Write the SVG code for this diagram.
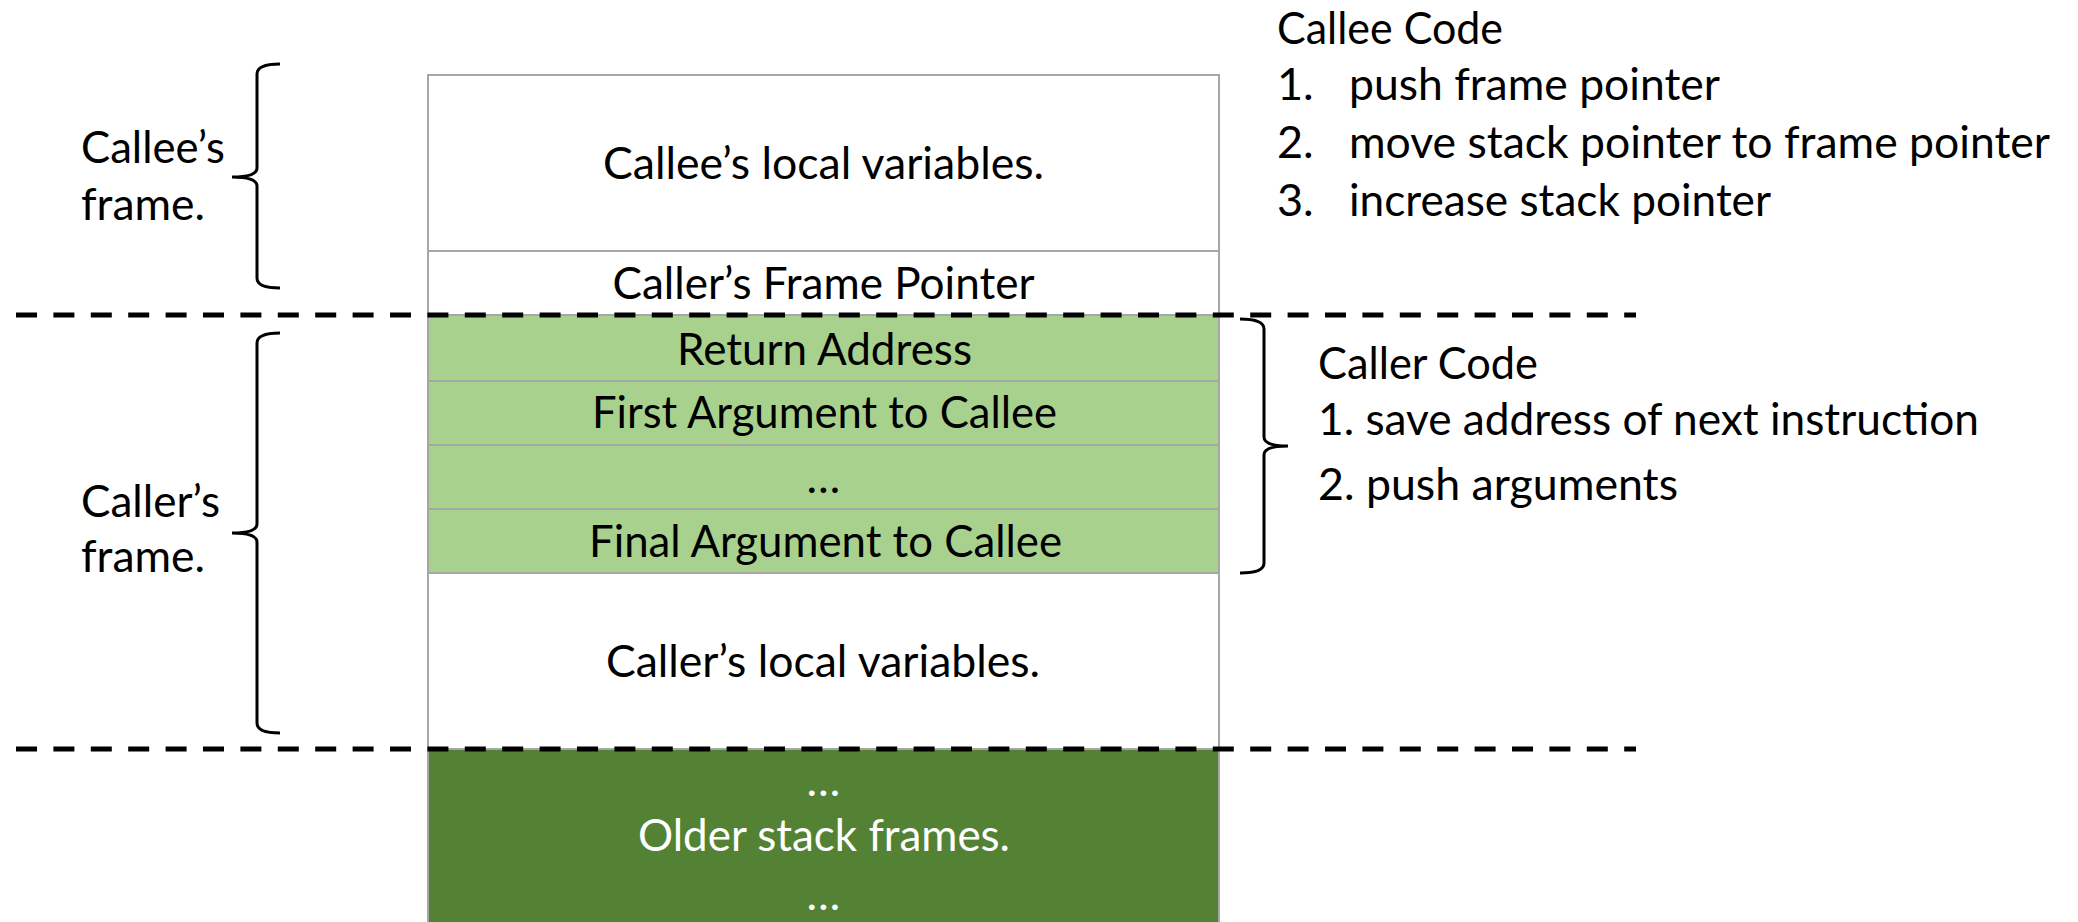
<svg xmlns="http://www.w3.org/2000/svg" width="2078" height="922" viewBox="0 0 2078 922">
<style>
text{font-family:Lato,"Open Sans","Liberation Sans",sans-serif;font-size:45px;fill:#000}
.c{text-anchor:middle}
.w{fill:#fff}
.cell{stroke:#A6A6A6;stroke-width:2}
.white{fill:#fff}
.lg{fill:#A9D18E}
.dg{fill:#548235}
.dash{stroke:#000;stroke-width:5;stroke-dasharray:21 16.4;fill:none}
.brace{stroke:#000;stroke-width:3;fill:none}
</style>
<rect width="2078" height="922" fill="#fff"/>
<g id="stack">
<g id="callee-locals"><rect class="cell white" x="428" y="75" width="791" height="176"/><text class="c" x="823.5" y="179" textLength="441" lengthAdjust="spacingAndGlyphs">Callee’s local variables.</text></g>
<g id="caller-fp"><rect class="cell white" x="428" y="251" width="791" height="64"/><text class="c" x="823.5" y="299" textLength="422" lengthAdjust="spacingAndGlyphs">Caller’s Frame Pointer</text></g>
<g id="return-address"><rect class="cell lg" x="428" y="315" width="791" height="66"/><text class="c" x="824.5" y="365" textLength="295" lengthAdjust="spacingAndGlyphs">Return Address</text></g>
<g id="first-arg"><rect class="cell lg" x="428" y="381" width="791" height="64"/><text class="c" x="824.5" y="428" textLength="465" lengthAdjust="spacingAndGlyphs">First Argument to Callee</text></g>
<g id="more-args"><rect class="cell lg" x="428" y="445" width="791" height="64"/><text class="c" x="823.5" y="493">…</text></g>
<g id="final-arg"><rect class="cell lg" x="428" y="509" width="791" height="64"/><text class="c" x="825.5" y="557" textLength="473" lengthAdjust="spacingAndGlyphs">Final Argument to Callee</text></g>
<g id="caller-locals"><rect class="cell white" x="428" y="573" width="791" height="176"/><text class="c" x="823" y="677" textLength="434" lengthAdjust="spacingAndGlyphs">Caller’s local variables.</text></g>
<g id="older-frames"><rect class="cell dg" x="428" y="749" width="791" height="190"/><text class="c w" x="823.5" y="796">…</text><text class="c w" x="824" y="851" textLength="372" lengthAdjust="spacingAndGlyphs">Older stack frames.</text><text class="c w" x="823.5" y="910">…</text></g>
</g>
<g id="connectors">
<line class="dash" x1="16" y1="315" x2="1636" y2="315"/>
<line class="dash" x1="16" y1="749" x2="1636" y2="749"/>
<path class="brace" d="M280,64 Q257,64 257,74 L257,168 Q257,177 232,177 Q257,177 257,186 L257,278 Q257,288 280,288"/>
<path class="brace" d="M280,333 Q257,333 257,343 L257,524 Q257,533 232,533 Q257,533 257,542 L257,723 Q257,733 280,733"/>
<path class="brace" d="M1240,319 Q1264,319 1264,329 L1264,437 Q1264,446 1288,446 Q1264,446 1264,455 L1264,563 Q1264,573 1240,573"/>
</g>
<g id="callee-frame-label"><text x="81" y="163" textLength="144" lengthAdjust="spacingAndGlyphs">Callee’s</text><text x="81" y="220" textLength="124" lengthAdjust="spacingAndGlyphs">frame.</text></g>
<g id="caller-frame-label"><text x="81" y="517" textLength="139" lengthAdjust="spacingAndGlyphs">Caller’s</text><text x="81" y="572" textLength="124" lengthAdjust="spacingAndGlyphs">frame.</text></g>
<g id="callee-code">
<text x="1277" y="44" textLength="226" lengthAdjust="spacingAndGlyphs">Callee Code</text>
<text x="1277" y="100">1.</text><text x="1349" y="100" textLength="371" lengthAdjust="spacingAndGlyphs">push frame pointer</text>
<text x="1277" y="158">2.</text><text x="1349" y="158" textLength="701" lengthAdjust="spacingAndGlyphs">move stack pointer to frame pointer</text>
<text x="1277" y="216">3.</text><text x="1349" y="216" textLength="422" lengthAdjust="spacingAndGlyphs">increase stack pointer</text>
</g>
<g id="caller-code">
<text x="1318" y="379" textLength="220" lengthAdjust="spacingAndGlyphs">Caller Code</text>
<text x="1318" y="435" textLength="661" lengthAdjust="spacingAndGlyphs">1. save address of next instruction</text>
<text x="1318" y="500" textLength="360" lengthAdjust="spacingAndGlyphs">2. push arguments</text>
</g>
</svg>
